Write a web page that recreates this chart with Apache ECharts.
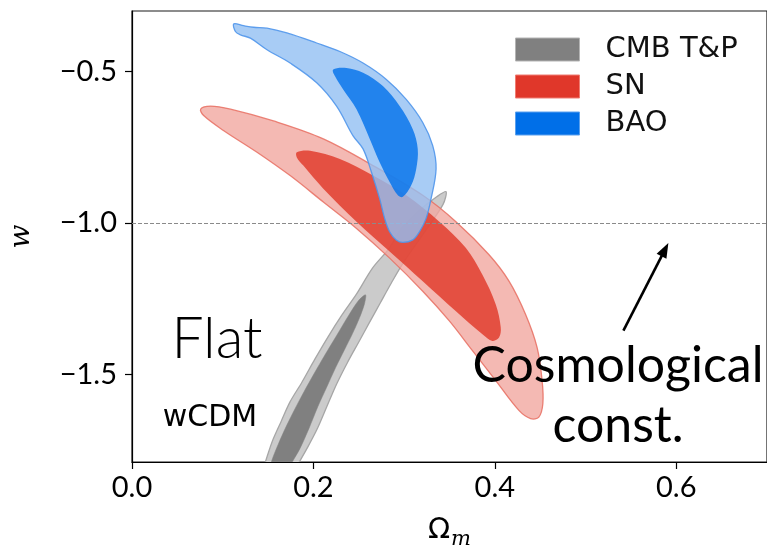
<!DOCTYPE html>
<html>
<head>
<meta charset="utf-8">
<script src="https://cdn.jsdelivr.net/npm/echarts@6/dist/echarts.min.js"></script>
<style>
html,body{margin:0;padding:0;background:#fff;}
#chart{width:767px;height:555px;}
</style>
</head>
<body>
<div id="chart"></div>
<script>
// ---- data: contour outlines [Omega_m, w] ----
const legendNames = ['CMB T&P', 'SN', 'BAO'];
const xTicks = [0.0, 0.2, 0.4, 0.6];
const yTicks = [-1.5, -1.0, -0.5];
const lambdaLine = -1.0;
const arrowStart = [0.5417, -1.355];
const arrowEnd = [0.5875, -1.088];

const cmbOuter = [
  [0.3462,-0.897],[0.3429,-0.939],[0.3253,-1.018],[0.2990,-1.132],[0.2859,-1.198],
  [0.2738,-1.263],[0.2618,-1.328],[0.2497,-1.394],[0.2377,-1.459],[0.2256,-1.531],
  [0.2147,-1.606],[0.2037,-1.682],[0.1928,-1.744],[0.1840,-1.790],[0.1763,-1.830],
  [0.1424,-1.830],[0.1468,-1.790],[0.1545,-1.721],[0.1643,-1.655],[0.1742,-1.590],
  [0.1873,-1.525],[0.2016,-1.449],[0.2158,-1.377],[0.2311,-1.305],[0.2476,-1.234],
  [0.2651,-1.149],[0.2837,-1.083],[0.2969,-1.018],[0.3166,-0.959],[0.3363,-0.913]
];
const cmbInner = [
  [0.2574,-1.237],[0.2563,-1.266],[0.2509,-1.312],[0.2432,-1.364],[0.2344,-1.417],
  [0.2246,-1.476],[0.2147,-1.541],[0.2048,-1.606],[0.1950,-1.678],[0.1851,-1.744],
  [0.1764,-1.790],[0.1710,-1.830],[0.1510,-1.830],[0.1534,-1.790],[0.1610,-1.731],
  [0.1698,-1.672],[0.1796,-1.613],[0.1895,-1.557],[0.2005,-1.498],[0.2125,-1.436],
  [0.2256,-1.371],[0.2388,-1.305],[0.2497,-1.256]
];
const snOuter = [
  [0.0757,-0.625],[0.0866,-0.615],[0.1086,-0.625],[0.1560,-0.664],[0.2109,-0.723],
  [0.2657,-0.811],[0.3205,-0.909],[0.3571,-0.996],[0.3936,-1.105],[0.4156,-1.192],
  [0.4339,-1.302],[0.4466,-1.411],[0.4521,-1.520],[0.4529,-1.596],[0.4485,-1.640],
  [0.4394,-1.645],[0.4265,-1.618],[0.4010,-1.520],[0.3753,-1.421],[0.3498,-1.323],
  [0.3205,-1.225],[0.2840,-1.116],[0.2475,-1.018],[0.2109,-0.931],[0.1743,-0.844],
  [0.1378,-0.767],[0.1012,-0.696],[0.0793,-0.647]
];
const snInner = [
  [0.1817,-0.767],[0.1963,-0.762],[0.2292,-0.789],[0.2657,-0.844],[0.3023,-0.909],
  [0.3388,-0.996],[0.3681,-1.083],[0.3863,-1.171],[0.4010,-1.269],[0.4065,-1.345],
  [0.4046,-1.378],[0.3973,-1.389],[0.3863,-1.367],[0.3571,-1.291],[0.3205,-1.192],
  [0.2840,-1.094],[0.2475,-0.996],[0.2109,-0.887],[0.1889,-0.811],[0.1817,-0.784]
];
const baoOuter = [
  [0.1122,-0.344],[0.1231,-0.350],[0.1341,-0.355],[0.1488,-0.358],[0.1707,-0.374],
  [0.2036,-0.407],[0.2292,-0.435],[0.2547,-0.473],[0.2804,-0.527],[0.3023,-0.593],
  [0.3205,-0.669],[0.3315,-0.745],[0.3352,-0.822],[0.3297,-0.920],[0.3242,-0.985],
  [0.3169,-1.029],[0.3095,-1.056],[0.2986,-1.064],[0.2913,-1.056],[0.2840,-1.029],
  [0.2785,-0.985],[0.2730,-0.920],[0.2639,-0.832],[0.2547,-0.756],[0.2437,-0.713],
  [0.2255,-0.615],[0.2036,-0.538],[0.1743,-0.473],[0.1488,-0.429],[0.1305,-0.391],
  [0.1195,-0.380],[0.1140,-0.369]
];
const baoInner = [
  [0.2218,-0.494],[0.2365,-0.489],[0.2547,-0.505],[0.2766,-0.549],[0.2950,-0.615],
  [0.3095,-0.691],[0.3150,-0.756],[0.3133,-0.822],[0.3078,-0.876],[0.2986,-0.914],
  [0.2931,-0.909],[0.2840,-0.865],[0.2730,-0.800],[0.2621,-0.723],[0.2475,-0.625],
  [0.2328,-0.560],[0.2237,-0.516]
];

const chart = echarts.init(document.getElementById('chart'), null, {renderer:'canvas'});

function contour(name, pts, fill, stroke, lw, z, sm){
  return {
    type:'custom', name:name, data:pts, clip:true, z:z, silent:true,
    itemStyle:{color:fill},
    renderItem:function(params, api){
      if (params.dataIndex !== 0) return;
      const p = pts.map(function(d){ return api.coord(d); });
      return {type:'polygon', shape:{points:p, smooth:sm},
              style:{fill:fill, stroke:stroke, lineWidth:lw}};
    }
  };
}

function fmt(v){
  const s = Math.abs(v).toFixed(1);
  return (v < 0 ? '\u2212' : '') + s;
}

const tickFont = 'Lato';

const option = {
  animation:false,
  backgroundColor:'#fff',
  grid:{left:131, right:-3, top:11, bottom:89, show:true, borderColor:'#1a1a1a', borderWidth:1.2, containLabel:false},
  legend:{
    orient:'vertical', left:515, top:35, padding:0,
    itemWidth:64, itemHeight:23, itemGap:8, icon:'rect',
    textStyle:{fontFamily:'DejaVu Sans', fontSize:29, color:'#111', lineHeight:29, padding:[0,0,0,21]},
    data:[
      {name:legendNames[0], itemStyle:{color:'#808080', borderColor:'#b4b4b4', borderWidth:1}},
      {name:legendNames[1], itemStyle:{color:'#e0372a', borderColor:'#ef7d72', borderWidth:1}},
      {name:legendNames[2], itemStyle:{color:'#006fe8', borderColor:'#5aa0ee', borderWidth:1}}
    ],
    selectedMode:false
  },
  xAxis:{
    type:'value', min:0, max:0.7,
    axisLine:{show:true, onZero:false, lineStyle:{color:'#000', width:1.2}},
    axisTick:{show:true, length:7, customValues:xTicks, lineStyle:{color:'#000', width:1.2}},
    axisLabel:{customValues:xTicks, formatter:fmt, fontFamily:tickFont, fontSize:29, color:'#000', margin:11},
    splitLine:{show:false},
    name:'{o|\u03A9}{m|m}', nameLocation:'middle', nameGap:54,
    nameTextStyle:{rich:{
      o:{fontFamily:'DejaVu Sans', fontSize:29, color:'#000', verticalAlign:'top', lineHeight:34},
      m:{fontFamily:'DejaVu Serif', fontStyle:'italic', fontSize:21, color:'#000', verticalAlign:'top', padding:[13,0,0,1], lineHeight:21}
    }}
  },
  yAxis:{
    type:'value', min:-1.788, max:-0.3015,
    axisLine:{show:true, onZero:false, lineStyle:{color:'#000', width:1.2}},
    axisTick:{show:true, length:7, customValues:yTicks, lineStyle:{color:'#000', width:1.2}},
    axisLabel:{customValues:yTicks, formatter:fmt, fontFamily:tickFont, fontSize:29, color:'#000', margin:15},
    splitLine:{show:false},
    name:'w', nameLocation:'middle', nameGap:96,
    nameTextStyle:{fontFamily:'DejaVu Serif', fontStyle:'italic', fontSize:28, color:'#000'}
  },
  series:[
    contour(legendNames[0], cmbOuter, '#cbcbcb', '#a6a6a6', 1.3, 1, 0.3),
    contour(legendNames[0], cmbInner, '#808080', '#808080', 0.5, 2, 0.3),
    contour(legendNames[1], snOuter, 'rgba(241,167,160,0.8)', 'rgba(232,110,98,0.85)', 1.3, 3, 0.35),
    contour(legendNames[1], snInner, 'rgba(224,54,38,0.8)', 'rgba(224,54,38,0.0)', 0, 4, 0.35),
    contour(legendNames[2], baoOuter, 'rgba(146,191,242,0.8)', 'rgba(80,150,235,0.9)', 1.3, 5, 0.35),
    contour(legendNames[2], baoInner, 'rgba(0,112,235,0.8)', 'rgba(0,112,235,0)', 0, 6, 0.35),
    {
      type:'line', data:[], z:10, silent:true,
      markLine:{
        silent:true, animation:false,
        data:[
          [{coord:[0, lambdaLine], symbol:'none', lineStyle:{color:'#8a8a8a', width:1, type:[4,2]}},
           {coord:[0.7, lambdaLine], symbol:'none'}],
          [{coord:arrowStart, symbol:'none', lineStyle:{color:'#000', width:2.6, type:'solid'}},
           {coord:arrowEnd, symbol:'triangle', symbolSize:[11,15]}]
        ],
        label:{show:false},
        emphasis:{disabled:true}
      }
    }
  ],
  graphic:[
    {type:'text', z:100, x:217, y:340, style:{text:'Flat', font:'300 57px Lato', fill:'#000', textAlign:'center', textVerticalAlign:'middle'}},
    {type:'text', z:100, x:210, y:418, style:{text:'wCDM', font:'30px "DejaVu Sans"', fill:'#000', textAlign:'center', textVerticalAlign:'middle'}},
    {type:'text', z:100, x:618, y:366, style:{text:'Cosmological', font:'50px Lato', fill:'#000', textAlign:'center', textVerticalAlign:'middle'}},
    {type:'text', z:100, x:618, y:426, style:{text:'const.', font:'50px Lato', fill:'#000', textAlign:'center', textVerticalAlign:'middle'}}
  ]
};
chart.setOption(option);
</script>
</body>
</html>
